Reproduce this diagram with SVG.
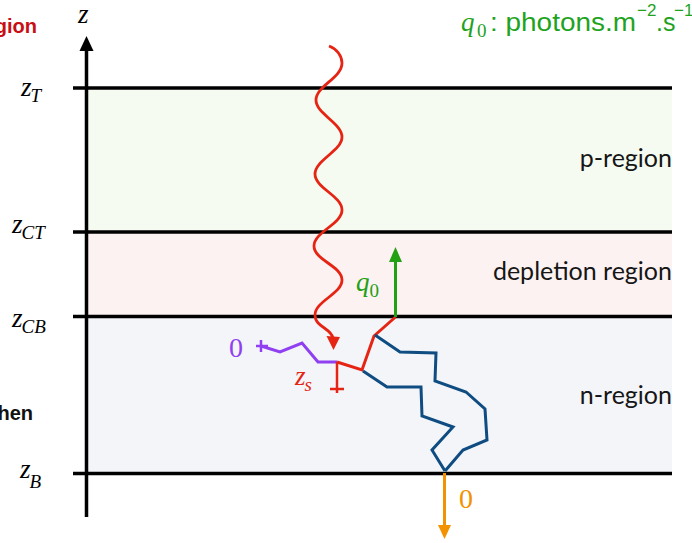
<svg xmlns="http://www.w3.org/2000/svg" width="692" height="543" viewBox="0 0 692 543">
<style>
.math{font-family:"Liberation Serif","DejaVu Serif",serif;font-style:italic;font-size:27px;fill:#000}
.sub{font-family:"Liberation Serif","DejaVu Serif",serif;font-style:italic;font-size:19px;fill:#000}
.reg{font-family:Lato,"Open Sans",sans-serif;font-size:25px;fill:#161616;text-anchor:end}
.hl{stroke:#000;stroke-width:3.5;fill:none}
.num{font-family:"Liberation Serif","DejaVu Serif",serif;font-size:28px}
</style>
<rect width="692" height="543" fill="#fff"/>
<g id="bands">
<rect x="87" y="88" width="585" height="144" fill="#f5fbf1"/>
<rect x="87" y="232" width="585" height="85" fill="#fdf2f2"/>
<rect x="87" y="317" width="585" height="156" fill="#f3f5f9"/>
</g>
<g id="cut-labels" font-family="'Liberation Sans',Arial,sans-serif" font-weight="bold" font-size="20">
<text x="37" y="33" text-anchor="end" fill="#c80f14">gion</text>
<text x="33" y="420" text-anchor="end" fill="#111">hen</text>
</g>
<g id="axis">
<line x1="86.5" y1="48" x2="86.5" y2="517" stroke="#000" stroke-width="3.5"/>
<polygon points="86.5,36 79.5,51 93.5,51" fill="#000"/>
<text class="math" x="78" y="23">z</text>
</g>
<g id="levels">
<line class="hl" x1="73" y1="88" x2="672" y2="88"/>
<line class="hl" x1="73" y1="232" x2="672" y2="232"/>
<line class="hl" x1="73" y1="316.5" x2="672" y2="316.5"/>
<line class="hl" x1="73" y1="473.5" x2="672" y2="473.5"/>
<text class="math" x="21" y="96">z<tspan class="sub" dx="-1" dy="6">T</tspan></text>
<text class="math" x="12" y="233">z<tspan class="sub" dx="-1" dy="6">CT</tspan></text>
<text class="math" x="12" y="327">z<tspan class="sub" dx="-1" dy="6">CB</tspan></text>
<text class="math" x="20" y="478">z<tspan class="sub" dx="-1" dy="10">B</tspan></text>
</g>
<g id="region-labels">
<text class="reg" x="672" y="167">p-region</text>
<text class="reg" x="672" y="280">depletion region</text>
<text class="reg" x="672" y="404">n-region</text>
</g>
<g id="legend" fill="#1fa31f">
<text class="math" x="461" y="31" style="fill:#1fa31f">q</text>
<text x="477" y="37" font-family="'Liberation Serif',serif" font-size="19">0</text>
<text x="490" y="31" font-family="'Liberation Sans',Arial,sans-serif" font-size="25" textLength="146" lengthAdjust="spacingAndGlyphs">: photons.m</text>
<text x="637" y="16" font-family="'Liberation Sans',Arial,sans-serif" font-size="17">−2</text>
<text x="656" y="31" font-family="'Liberation Sans',Arial,sans-serif" font-size="25">.s</text>
<text x="674" y="16" font-family="'Liberation Sans',Arial,sans-serif" font-size="17">−1</text>
</g>
<g id="connectors" fill="none" stroke-linejoin="miter">
<path id="photon" d="M329,46 C337,49 342,56 342,63 C342,78 316,86 316,100 C316,114 342,123 342,137 C342,151 315,160 315,174 C315,188 342,196 342,210 C342,224 314,232 314,246 C314,260 342,266 342,280 C342,294 315,301 315,315 C315,327 331,328 333,338" stroke="#e62414" stroke-width="2.8"/>
<polygon points="333.5,350 326.5,336 340,337" fill="#e62414"/>
<polyline id="purple" points="261,346 280,352 302,343 318,362 337,362" stroke="#9040f0" stroke-width="3"/>
<line x1="256" y1="346" x2="268" y2="346" stroke="#9040f0" stroke-width="2.5"/>
<line x1="261" y1="340" x2="261" y2="352" stroke="#9040f0" stroke-width="2.5"/>
<polyline id="red-walk" points="337,362 362,370 374,336 395.5,317" stroke="#e62414" stroke-width="3"/>
<line x1="337" y1="362" x2="337" y2="393" stroke="#e62414" stroke-width="2.5"/>
<line x1="330" y1="389" x2="344" y2="389" stroke="#e62414" stroke-width="2.5"/>
<polyline id="blue-a" points="375,335 400,352 436,353 435,381 466,392 485,409 487,440 463,450 445,471" stroke="#0f4c81" stroke-width="3"/>
<polyline id="blue-b" points="363,371 387,387 421,387 422,416 453,427 432,450 445,471" stroke="#0f4c81" stroke-width="3"/>
<line x1="395.5" y1="317" x2="395.5" y2="260" stroke="#23a013" stroke-width="3"/>
<polygon points="395.5,247 389,262 402,262" fill="#23a013"/>
<line x1="444.5" y1="473" x2="444.5" y2="527" stroke="#f39200" stroke-width="3"/>
<polygon points="444.5,539 438,525 451,525" fill="#f39200"/>
</g>
<g id="walk-labels">
<text class="num" x="229" y="357" fill="#9040f0">0</text>
<text class="math" x="295" y="385" style="fill:#e62414">z<tspan class="sub" dx="-1" dy="6" style="fill:#e62414">s</tspan></text>
<text class="math" x="356" y="291" style="fill:#23a013">q<tspan class="sub" dx="0" dy="6" style="font-style:normal;fill:#23a013">0</tspan></text>
<text class="num" x="459" y="508" fill="#f39200">0</text>
</g>
</svg>
